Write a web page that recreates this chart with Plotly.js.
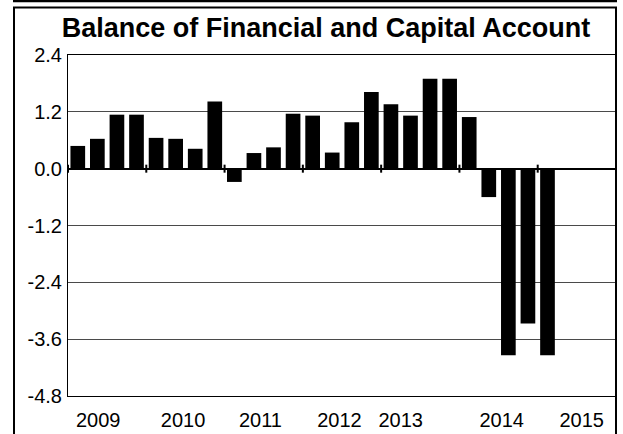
<!DOCTYPE html>
<html>
<head>
<meta charset="utf-8">
<script src="https://cdn.plot.ly/plotly-3.0.1.min.js"></script>
<style>
  html, body { margin: 0; padding: 0; background: #fff; }
  #chart { width: 623px; height: 434px; }
</style>
</head>
<body>
<div id="chart"></div>
<script>
// ---- data ----
const quarters = [
  '2009Q1','2009Q2','2009Q3','2009Q4',
  '2010Q1','2010Q2','2010Q3','2010Q4',
  '2011Q1','2011Q2','2011Q3','2011Q4',
  '2012Q1','2012Q2','2012Q3','2012Q4',
  '2013Q1','2013Q2','2013Q3','2013Q4',
  '2014Q1','2014Q2','2014Q3','2014Q4',
  '2015Q1'
];
const balance = [
  0.48, 0.63, 1.14, 1.14,
  0.65, 0.63, 0.42, 1.42,
  -0.28, 0.33, 0.45, 1.16,
  1.12, 0.34, 0.98, 1.62,
  1.36, 1.12, 1.90, 1.90,
  1.09, -0.60, -3.94, -3.27,
  -3.94
];
const years = ['2009','2010','2011','2012','2013','2014','2015'];
const yTicks = [-4.8, -3.6, -2.4, -1.2, 0.0, 1.2, 2.4];

// ---- layout helpers ----
const slotsPerYear = 4;
const totalSlots = years.length * slotsPerYear;
const xIdx = quarters.map((q, i) => i);
// label placement offsets (in quarter slots, relative to year start) as in the reference
const yearLabelOffset = [1.54, 1.88, 1.83, 1.87, 1.0, 2.16, 2.25];
const yearTickVals = years.map((y, k) => k * slotsPerYear - 0.5 + yearLabelOffset[k]);

const shapes = [];
// small tick marks across the zero line at year boundaries
for (let k = 0; k <= years.length; k++) {
  shapes.push({
    type: 'line', xref: 'x', yref: 'y', ysizemode: 'pixel', yanchor: 0,
    x0: k * slotsPerYear - 0.5, x1: k * slotsPerYear - 0.5, y0: -4, y1: 4,
    line: {color: '#000', width: 2}, layer: 'above'
  });
}
// outer frame of the figure
const W = 623, H = 434, mL = 68, mR = 7, mT = 55, mB = 38;
const pw = W - mL - mR, ph = H - mT - mB;
const px = v => (v - mL) / pw;
const py = v => (H - mB - v) / ph;
shapes.push({type: 'rect', xref: 'paper', yref: 'paper',
  x0: px(14), x1: px(616), y0: py(445), y1: py(7.5),
  line: {color: '#000', width: 2}, fillcolor: 'rgba(0,0,0,0)'});
shapes.push({type: 'line', xref: 'paper', yref: 'paper',
  x0: px(13), x1: px(617), y0: py(1), y1: py(1),
  line: {color: '#000', width: 2.5}});

const trace = {
  type: 'bar',
  x: xIdx,
  y: balance,
  hovertext: quarters,
  hoverinfo: 'text+y',
  textposition: 'none',
  width: 0.75,
  marker: {color: '#000', line: {width: 0}}
};

const font = {family: 'Arial, "Liberation Sans", sans-serif', color: '#000'};

const layout = {
  width: W, height: H,
  margin: {l: mL, r: mR, t: mT, b: mB, pad: 0},
  paper_bgcolor: '#fff', plot_bgcolor: '#fff',
  showlegend: false,
  font: font,
  title: {
    text: '<b>Balance of Financial and Capital Account</b>',
    font: {family: font.family, size: 27, color: '#000'},
    xref: 'container', x: 326 / W, xanchor: 'center',
    yref: 'container', y: 1 - 28 / H, yanchor: 'middle'
  },
  xaxis: {
    range: [-0.5, totalSlots - 0.5],
    tickvals: yearTickVals, ticktext: years,
    ticks: '', showgrid: false, zeroline: false,
    showline: true, mirror: true, linecolor: '#000', linewidth: 1,
    tickfont: {family: font.family, size: 20, color: '#000'},
    ticklabelstandoff: 6,
    fixedrange: true
  },
  yaxis: {
    range: [-4.8, 2.4],
    tickvals: yTicks, ticktext: yTicks.map(v => v.toFixed(1)),
    ticks: '', showgrid: true, gridcolor: '#4a4a4a', gridwidth: 1,
    zeroline: true, zerolinecolor: '#000', zerolinewidth: 2,
    showline: true, mirror: true, linecolor: '#000', linewidth: 1,
    tickfont: {family: font.family, size: 20, color: '#000'},
    ticklabelstandoff: 1,
    fixedrange: true
  },
  shapes: shapes
};

Plotly.newPlot('chart', [trace], layout, {displayModeBar: false, staticPlot: true});
</script>
</body>
</html>
